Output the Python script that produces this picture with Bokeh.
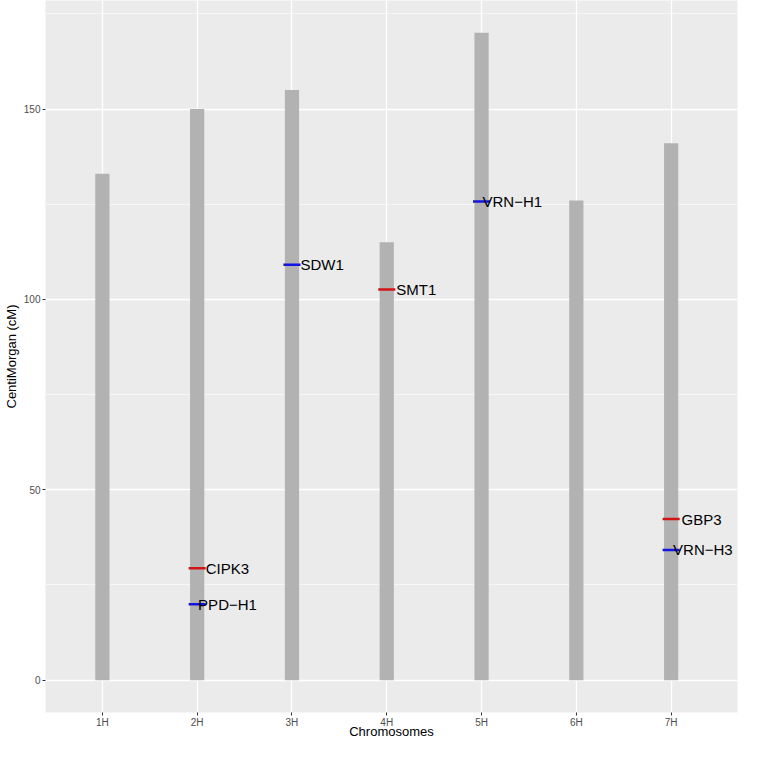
from bokeh.plotting import figure
from bokeh.models import Range1d, FixedTicker, ColumnDataSource, Label
from bokeh.embed import file_html
from bokeh.resources import INLINE

# ---- data ----
chromosomes = ["1H", "2H", "3H", "4H", "5H", "6H", "7H"]
chrom_length = [133, 150, 155, 115, 170, 126, 141]

genes = ["CIPK3", "PPD\u2212H1", "SDW1", "SMT1", "VRN\u2212H1", "GBP3", "VRN\u2212H3"]
gene_chrom = ["2H", "2H", "3H", "4H", "5H", "7H", "7H"]
gene_pos = [29.4, 19.9, 109.1, 102.6, 125.7, 42.3, 34.2]
gene_group = ["red", "blue", "blue", "red", "blue", "red", "blue"]

y_ticks = [0, 50, 100, 150]
y_minor = [25, 75, 125, 175]

# ---- styling / layout (not data) ----
label_dx = [0.09, 0.01, 0.09, 0.10, 0.01, 0.11, 0.02]
seg_half = 0.09
colors = {"red": "#D41414", "blue": "#1414E0"}
font = "Liberation Sans"

xi = [chromosomes.index(c) + 1 for c in chromosomes]
gx = [chromosomes.index(c) + 1 for c in gene_chrom]

p = figure(width=741, height=741, output_backend="svg", toolbar_location=None,
           x_range=Range1d(0.4, 7.7), y_range=Range1d(-8.5, 178.5))
p.min_border_left = 0
p.min_border_right = 4
p.min_border_top = 0
p.min_border_bottom = 0
p.outline_line_color = None
p.background_fill_color = "#EBEBEB"
p.border_fill_color = "white"

# grids
p.xgrid.ticker = FixedTicker(ticks=xi)
p.ygrid.ticker = FixedTicker(ticks=y_ticks, minor_ticks=y_minor)
for g in (p.xgrid, p.ygrid):
    g.grid_line_color = "white"
    g.grid_line_width = 1.3
p.ygrid.minor_grid_line_color = "white"
p.ygrid.minor_grid_line_width = 0.6

# axes
p.xaxis.ticker = FixedTicker(ticks=xi)
p.xaxis.major_label_overrides = {i: c for i, c in zip(xi, chromosomes)}
p.yaxis.ticker = FixedTicker(ticks=y_ticks, minor_ticks=[])
for ax in (p.xaxis, p.yaxis):
    ax.axis_line_color = None
    ax.major_tick_line_color = "#333333"
    ax.major_tick_in = 0
    ax.major_tick_out = 3
    ax.minor_tick_line_color = None
    ax.major_label_text_font = font
    ax.major_label_text_font_size = "10px"
    ax.major_label_text_color = "#4D4D4D"
    ax.major_label_standoff = 2
    ax.axis_label_text_font = font
    ax.axis_label_text_font_size = "13px"
    ax.axis_label_text_font_style = "normal"
    ax.axis_label_text_color = "black"
    ax.axis_label_standoff = 2
p.xaxis.major_label_standoff = 1
p.xaxis.axis_label_standoff = -7
p.xaxis.axis_label = "Chromosomes"
p.yaxis.axis_label = "CentiMorgan (cM)"

# chromosome bars
p.vbar(x=xi, top=chrom_length, bottom=0, width=0.15, fill_color="#B2B2B2", line_color=None)

# gene markers
src = ColumnDataSource(dict(
    x0=[x - seg_half for x in gx],
    x1=[x + seg_half for x in gx],
    y=gene_pos,
    c=[colors[g] for g in gene_group],
))
p.segment(x0="x0", y0="y", x1="x1", y1="y", line_color="c", line_width=2.5, source=src)
for x, d, y, t in zip(gx, label_dx, gene_pos, genes):
    p.add_layout(Label(x=x + d, y=y, text=t, text_font=font, text_font_size="15px",
                       text_color="black", text_align="left", text_baseline="middle"))

open("out.html", "w").write(file_html(p, INLINE))
